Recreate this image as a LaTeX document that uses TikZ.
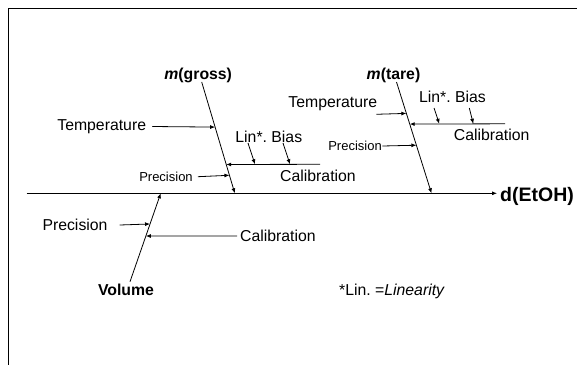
\documentclass[tikz,border=0pt]{standalone}
\usepackage{fontspec}
\setmainfont{Liberation Sans}
\usetikzlibrary{arrows.meta, calc}

\begin{document}
\begin{tikzpicture}[x=1pt, y=-1pt,
    lbl/.style={font=\fontsize{15.8}{18}\selectfont, inner sep=3pt},
    sml/.style={font=\fontsize{13}{15}\selectfont, inner sep=3pt},
    cause/.style={font=\bfseries\fontsize{15.8}{18}\selectfont, inner sep=3pt},
    arr/.style={line width=0.8pt, -{Latex[length=5pt, width=4pt]}}]

  \useasboundingbox (0,0) rectangle (577,365);
  \draw[line width=1pt] (577,8) -- (8,8) -- (8,365);

  % Main spine and result
  \coordinate (spine0) at (26.7,193.3);
  \node[anchor=west, inner sep=3pt, font=\bfseries\fontsize{19.5}{22}\selectfont] (effect) at (497,196) {d(EtOH)};
  \draw[arr] (spine0) -- (effect.west |- spine0);

  % m(gross) branch
  \node[cause] (gross) at (198.2,75) {\textit{m}(gross)};
  \coordinate (gtop) at (201.7,82);
  \coordinate (gbot) at (234.8,193.3);
  \draw[arr] (gtop) -- (gbot);
  \coordinate (gT) at ($(gtop)!0.405!(gbot)$);
  \coordinate (gC) at ($(gtop)!0.741!(gbot)$);
  \coordinate (gP) at ($(gtop)!0.838!(gbot)$);

  \node[lbl] (gtemp) at (101.7,126.5) {Temperature};
  \draw[arr] ([xshift=3pt]gtemp.east) -- (gT);

  \node[lbl] (gbias) at (268.8,136.7) {Lin*.\ Bias};
  \coordinate (gcal0) at (320,164.3);
  \draw[arr] (gcal0) -- (gC);
  \coordinate (gL1) at (248,143);
  \coordinate (gL2) at (283,143);
  \draw[arr] (gL1) -- (255,164.3);
  \draw[arr] (gL2) -- (290,164.3);
  \node[lbl] (gcal) at (318,175.7) {Calibration};

  \node[sml] (gprec) at (166,176.7) {Precision};
  \draw[arr] ([xshift=2pt]gprec.east) -- (gP);

  % m(tare) branch
  \node[cause] (tare) at (393.5,75) {\textit{m}(tare)};
  \coordinate (ttop) at (396.5,82);
  \coordinate (tbot) at (431.5,193.3);
  \draw[arr] (ttop) -- (tbot);
  \coordinate (tT) at ($(ttop)!0.282!(tbot)$);
  \coordinate (tC) at ($(ttop)!0.378!(tbot)$);
  \coordinate (tP) at ($(ttop)!0.568!(tbot)$);

  \node[lbl] (ttemp) at (332.8,104) {Temperature};
  \draw[arr] ([xshift=-4pt]ttemp.south east) -- (tT);

  \node[lbl] (tbias) at (452.5,96.7) {Lin*.\ Bias};
  \coordinate (tcal0) at (505,123.8);
  \draw[arr] (tcal0) -- (tC);
  \coordinate (tL1) at (434,108);
  \coordinate (tL2) at (469.3,108);
  \draw[arr] (tL1) -- (439.3,123.8);
  \draw[arr] (tL2) -- (473.3,123.8);
  \node[lbl] (tcal) at (491.7,135) {Calibration};

  \node[sml, inner sep=0.5pt] (tprec) at (355,146) {Precision};
  \draw[arr] (tprec.east) -- (tP);

  % Volume branch
  \node[cause] (vol) at (126,290) {Volume};
  \coordinate (vbot) at (130,281.7);
  \coordinate (vtop) at (160.7,193.3);
  \draw[arr] (vbot) -- (vtop);
  \coordinate (vP) at ($(vbot)!0.653!(vtop)$);
  \coordinate (vC) at ($(vbot)!0.517!(vtop)$);

  \node[lbl] (vprec) at (75,225) {Precision};
  \draw[arr] ([xshift=9pt]vprec.east) -- (vP);
  \node[lbl, anchor=west] (vcal) at (237,236) {Calibration};
  \draw[arr] (vcal.west) -- (vC);

  % Footnote
  \node[lbl] (note) at (392,291.7) {*Lin.\ =\textit{Linearity}};
\end{tikzpicture}
\end{document}
